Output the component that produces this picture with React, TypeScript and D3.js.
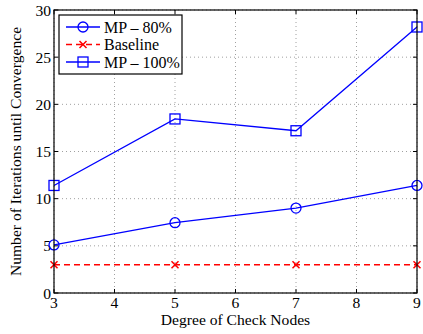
import React from "react";
import * as d3 from "d3";

const degrees = [3, 5, 7, 9];
const mp80 = [5.1, 7.45, 9.0, 11.4];
const baseline = [3, 3, 3, 3];
const mp100 = [11.4, 18.45, 17.2, 28.2];
const xTicks = [3, 4, 5, 6, 7, 8, 9];
const yTicks = [0, 5, 10, 15, 20, 25, 30];

const W = 423, H = 334;
const L = 54, R = 417, T = 10, B = 293;
const FONT = "'Liberation Serif', 'Times New Roman', serif";
const FS = 15.6;

export default function App() {
  const x = d3.scaleLinear().domain([3, 9]).range([L, R]);
  const y = d3.scaleLinear().domain([0, 30]).range([B, T]);
  const line = d3.line<number>().x((_, i) => x(degrees[i])).y((d) => y(d));

  const circle = (cx: number, cy: number, k: string) => (
    <circle key={k} cx={cx} cy={cy} r={5} fill="none" stroke="#0000ff" strokeWidth={1.3} />
  );
  const square = (cx: number, cy: number, k: string) => (
    <rect key={k} x={cx - 5} y={cy - 5} width={10} height={10} fill="none" stroke="#0000ff" strokeWidth={1.3} />
  );
  const cross = (cx: number, cy: number, k: string) => (
    <path key={k} d={`M${cx - 3.5},${cy - 3.5}L${cx + 3.5},${cy + 3.5}M${cx - 3.5},${cy + 3.5}L${cx + 3.5},${cy - 3.5}`} stroke="#ff0000" strokeWidth={1.5} />
  );

  return (
    <svg width={W} height={H} style={{ position: "absolute", left: 0, top: 0, background: "#fff" }}>
      <rect x={0} y={0} width={W} height={H} fill="#fff" />
      {xTicks.map((t) => (
        <line key={"gx" + t} x1={x(t)} x2={x(t)} y1={T} y2={B} stroke="#888" strokeWidth={0.8} strokeDasharray="1,3" />
      ))}
      {yTicks.map((t) => (
        <line key={"gy" + t} x1={L} x2={R} y1={y(t)} y2={y(t)} stroke="#888" strokeWidth={0.8} strokeDasharray="1,3" />
      ))}
      {xTicks.map((t) => (
        <g key={"tx" + t}>
          <line x1={x(t)} x2={x(t)} y1={B} y2={B - 4} stroke="#000" />
          <line x1={x(t)} x2={x(t)} y1={T} y2={T + 4} stroke="#000" />
          <text x={x(t)} y={B + 14.5} textAnchor="middle" fontFamily={FONT} fontSize={FS} fill="#000">{t}</text>
        </g>
      ))}
      {yTicks.map((t) => (
        <g key={"ty" + t}>
          <line x1={L} x2={L + 4} y1={y(t)} y2={y(t)} stroke="#000" />
          <line x1={R} x2={R - 4} y1={y(t)} y2={y(t)} stroke="#000" />
          <text x={L - 3} y={y(t) + 5.5} textAnchor="end" fontFamily={FONT} fontSize={FS} fill="#000">{t}</text>
        </g>
      ))}
      <path d={line(baseline) || ""} fill="none" stroke="#ff0000" strokeWidth={1.5} strokeDasharray="6,4" />
      {baseline.map((v, i) => cross(x(degrees[i]), y(v), "b" + i))}
      <path d={line(mp80) || ""} fill="none" stroke="#0000ff" strokeWidth={1.3} />
      {mp80.map((v, i) => circle(x(degrees[i]), y(v), "c" + i))}
      <path d={line(mp100) || ""} fill="none" stroke="#0000ff" strokeWidth={1.3} />
      {mp100.map((v, i) => square(x(degrees[i]), y(v), "s" + i))}
      <rect x={L} y={T} width={R - L} height={B - T} fill="none" stroke="#000" strokeWidth={1.2} />
      <g>
        <rect x={59} y={15} width={123} height={59} fill="#fff" stroke="#000" strokeWidth={1.2} />
        <line x1={66} x2={100} y1={27} y2={27} stroke="#0000ff" strokeWidth={1.3} />
        {circle(83, 27, "lc")}
        <text x={104} y={32.5} fontFamily={FONT} fontSize={16} fill="#000">MP – 80%</text>
        <line x1={66} x2={100} y1={44.5} y2={44.5} stroke="#ff0000" strokeWidth={1.5} strokeDasharray="6,4" />
        {cross(83, 44.5, "lx")}
        <text x={104} y={50} fontFamily={FONT} fontSize={16} fill="#000">Baseline</text>
        <line x1={66} x2={100} y1={62} y2={62} stroke="#0000ff" strokeWidth={1.3} />
        {square(83, 62, "ls")}
        <text x={104} y={67.5} fontFamily={FONT} fontSize={16} fill="#000">MP – 100%</text>
      </g>
      <text x={(L + R) / 2} y={325} textAnchor="middle" fontFamily={FONT} fontSize={FS} fill="#000">Degree of Check Nodes</text>
      <text transform={`translate(21,${(T + B) / 2}) rotate(-90)`} textAnchor="middle" fontFamily={FONT} fontSize={FS} fill="#000">Number of Iterations until Convergence</text>
    </svg>
  );
}
